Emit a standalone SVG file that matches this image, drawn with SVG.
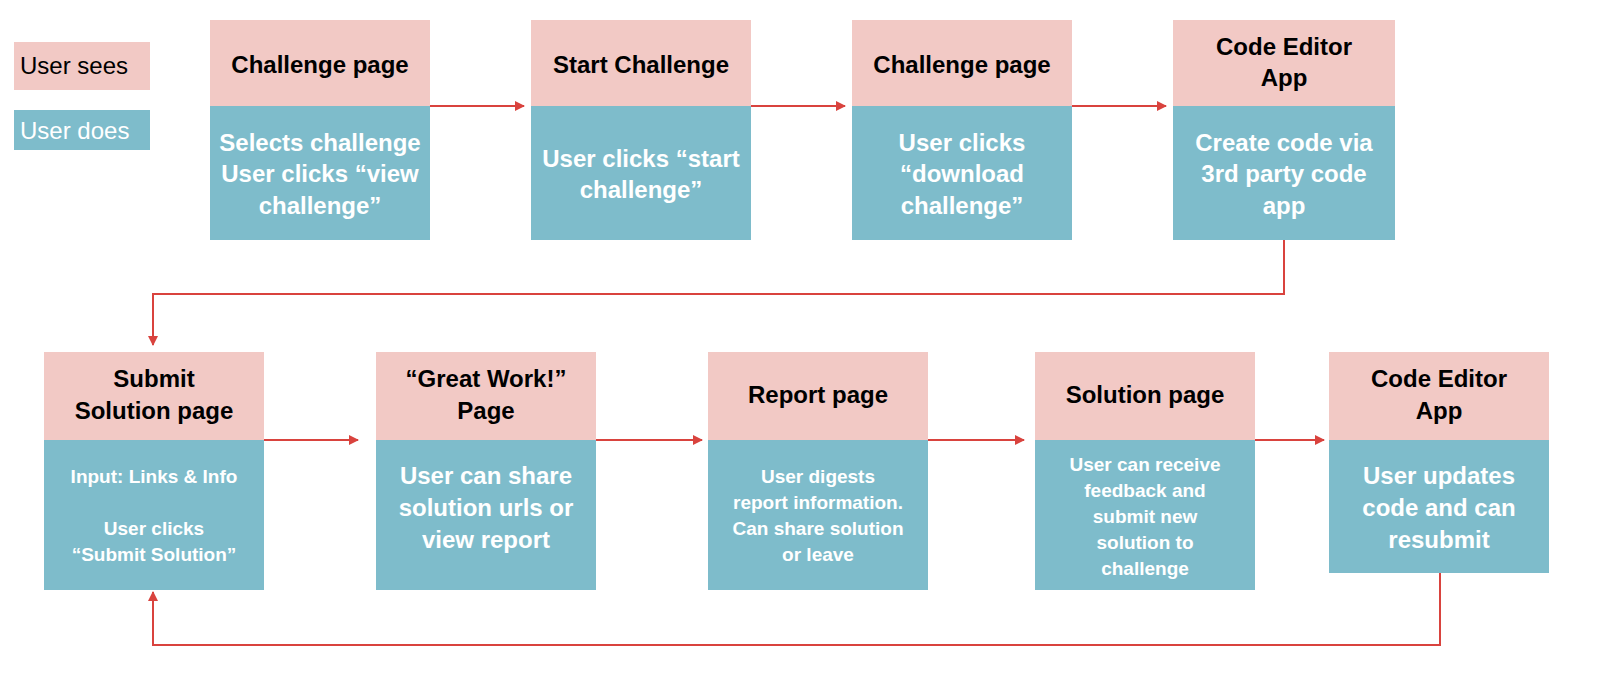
<svg xmlns="http://www.w3.org/2000/svg" width="1600" height="682" viewBox="0 0 1600 682">
<style>
.s{fill:#F2C9C5}.d{fill:#7EBCCB}
.t{font-family:"Liberation Sans",Arial,sans-serif;font-weight:bold;font-size:24px;fill:#000;text-anchor:middle}
.w{font-family:"Liberation Sans",Arial,sans-serif;font-weight:bold;font-size:24px;fill:#fff;text-anchor:middle}
.ws{font-family:"Liberation Sans",Arial,sans-serif;font-weight:bold;font-size:19px;fill:#fff;text-anchor:middle}
.l{font-family:"Liberation Sans",Arial,sans-serif;font-size:24px;fill:#000}
.lw{font-family:"Liberation Sans",Arial,sans-serif;font-size:24px;fill:#fff}
.c{fill:none;stroke:#D9433E;stroke-width:2}
</style>
<defs><marker id="a" markerWidth="10" markerHeight="10" refX="9" refY="5" orient="auto" markerUnits="userSpaceOnUse"><path d="M0,0L10,5L0,10z" fill="#D9433E"/></marker></defs>
<rect width="1600" height="682" fill="#fff"/>
<g id="legend">
<rect class="s" x="14" y="42" width="136" height="48"/><text class="l" x="20" y="74">User sees</text>
<rect class="d" x="14" y="110" width="136" height="40"/><text class="lw" x="20" y="139">User does</text>
</g>
<g id="n1"><rect class="s" x="210" y="20" width="220" height="86"/><rect class="d" x="210" y="106" width="220" height="134"/>
<text class="t" x="320" y="73">Challenge page</text>
<text class="w" x="320" y="151">Selects challenge</text><text class="w" x="320" y="167" dy="15">User clicks “view</text><text class="w" x="320" y="214">challenge”</text></g>
<g id="n2"><rect class="s" x="531" y="20" width="220" height="86"/><rect class="d" x="531" y="106" width="220" height="134"/>
<text class="t" x="641" y="73">Start Challenge</text>
<text class="w" x="641" y="167">User clicks “start</text><text class="w" x="641" y="198">challenge”</text></g>
<g id="n3"><rect class="s" x="852" y="20" width="220" height="86"/><rect class="d" x="852" y="106" width="220" height="134"/>
<text class="t" x="962" y="73">Challenge page</text>
<text class="w" x="962" y="151">User clicks</text><text class="w" x="962" y="182">“download</text><text class="w" x="962" y="214">challenge”</text></g>
<g id="n4"><rect class="s" x="1173" y="20" width="222" height="86"/><rect class="d" x="1173" y="106" width="222" height="134"/>
<text class="t" x="1284" y="55">Code Editor</text><text class="t" x="1284" y="86">App</text>
<text class="w" x="1284" y="151">Create code via</text><text class="w" x="1284" y="182">3rd party code</text><text class="w" x="1284" y="214">app</text></g>
<g id="n5"><rect class="s" x="44" y="352" width="220" height="88"/><rect class="d" x="44" y="440" width="220" height="150"/>
<text class="t" x="154" y="387">Submit</text><text class="t" x="154" y="419">Solution page</text>
<text class="ws" x="154" y="483">Input: Links &amp; Info</text><text class="ws" x="154" y="535">User clicks</text><text class="ws" x="154" y="561">“Submit Solution”</text></g>
<g id="n6"><rect class="s" x="376" y="352" width="220" height="88"/><rect class="d" x="376" y="440" width="220" height="150"/>
<text class="t" x="486" y="387">“Great Work!”</text><text class="t" x="486" y="419">Page</text>
<text class="w" x="486" y="484">User can share</text><text class="w" x="486" y="516">solution urls or</text><text class="w" x="486" y="548">view report</text></g>
<g id="n7"><rect class="s" x="708" y="352" width="220" height="88"/><rect class="d" x="708" y="440" width="220" height="150"/>
<text class="t" x="818" y="403">Report page</text>
<text class="ws" x="818" y="483">User digests</text><text class="ws" x="818" y="509">report information.</text><text class="ws" x="818" y="535">Can share solution</text><text class="ws" x="818" y="561">or leave</text></g>
<g id="n8"><rect class="s" x="1035" y="352" width="220" height="88"/><rect class="d" x="1035" y="440" width="220" height="150"/>
<text class="t" x="1145" y="403">Solution page</text>
<text class="ws" x="1145" y="471">User can receive</text><text class="ws" x="1145" y="497">feedback and</text><text class="ws" x="1145" y="523">submit new</text><text class="ws" x="1145" y="549">solution to</text><text class="ws" x="1145" y="575">challenge</text></g>
<g id="n9"><rect class="s" x="1329" y="352" width="220" height="88"/><rect class="d" x="1329" y="440" width="220" height="133"/>
<text class="t" x="1439" y="387">Code Editor</text><text class="t" x="1439" y="419">App</text>
<text class="w" x="1439" y="484">User updates</text><text class="w" x="1439" y="516">code and can</text><text class="w" x="1439" y="548">resubmit</text></g>
<g id="connectors">
<path class="c" d="M430,106H524" marker-end="url(#a)"/>
<path class="c" d="M751,106H845" marker-end="url(#a)"/>
<path class="c" d="M1072,106H1166" marker-end="url(#a)"/>
<path class="c" d="M1284,240V294H153V345" marker-end="url(#a)"/>
<path class="c" d="M264,440H358" marker-end="url(#a)"/>
<path class="c" d="M596,440H702" marker-end="url(#a)"/>
<path class="c" d="M928,440H1024" marker-end="url(#a)"/>
<path class="c" d="M1255,440H1324" marker-end="url(#a)"/>
<path class="c" d="M1440,573V645H153V592" marker-end="url(#a)"/>
</g>
</svg>
